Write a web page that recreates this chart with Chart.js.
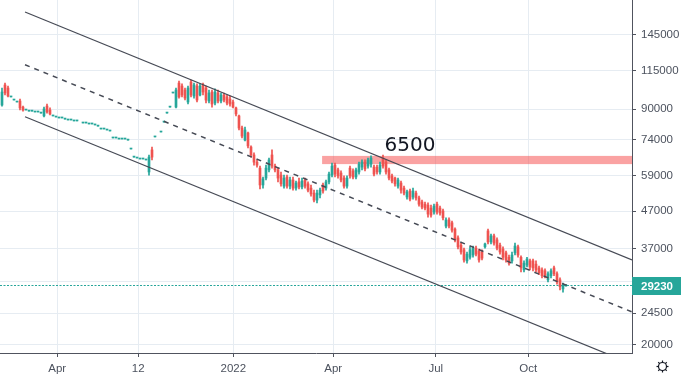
<!DOCTYPE html>
<html><head><meta charset="utf-8">
<script src="https://cdn.jsdelivr.net/npm/chart.js@4.4.0/dist/chart.umd.min.js"></script>
<style>
html,body{margin:0;padding:0;background:#fff;overflow:hidden;width:693px;height:379px;}
#wrap{position:absolute;left:0;top:-6px;width:693px;height:385px;}
</style></head><body>
<div id="wrap"><canvas id="c" width="693" height="385"></canvas></div>
<script>
const opens=[
92400,105000,103000,97300,95400,94200,94800,91200,89500,88900,
88900,88400,88400,87800,86200,91800,89500,86200,85600,85100,
85100,84500,84000,84000,83500,83500,null,82400,82400,81900,
81900,81400,80800,79300,79300,78800,78300,74900,74900,74400,
74400,74400,73900,69800,66300,65900,65500,65500,65100,60300,
69400,75400,null,77800,82900,87800,91200,99800,91200,106300,
104300,101700,94200,107000,97900,104300,98500,105000,103000,94800,
100400,93600,99800,94800,98500,97300,96000,94200,90700,86200,
79800,73900,77300,70700,67200,64200,61800,55500,58000,61100,
67200,62600,61100,59100,55100,58400,55100,57300,54400,56600,
54800,57300,55900,54400,52700,50400,52100,55500,54400,56600,
59100,63000,61100,59900,58000,55100,61800,60700,58400,60300,
62200,64200,62600,63400,62200,62200,60300,65900,64200,61100,
58800,58000,55100,56200,54400,51400,53400,51400,52700,51100,
49800,49100,48800,47900,46700,49100,47900,47000,42700,44400,
43600,41900,39600,37800,36700,34200,35000,35500,37100,36400,
36200,37400,41400,38600,40100,39100,37800,36900,36000,35000,
34200,36000,37400,35000,32300,33300,34200,34200,33500,32700,
32300,32100,30300,31100,32700,31500,30300,28600,29150];
const highs=[
103000,106300,104300,97300,95400,94200,96000,91800,89500,88900,
88900,88400,88400,87800,91200,93000,90700,86200,85600,85100,
85100,84500,84000,84000,83500,83500,null,82400,82400,81900,
81900,81400,80800,79300,79300,78800,78300,74900,74900,74400,
74400,74400,73900,69800,66300,65900,65500,65500,65100,67200,
70700,75400,null,77800,82900,87800,91200,99800,103000,107700,
105700,103000,104300,108400,106300,105700,105700,106300,104300,101700,
101700,102400,101700,99800,99800,98500,97900,95400,91200,86700,
80800,80300,77800,71200,68100,65100,62600,58400,63000,65900,
69400,63400,61800,60300,59100,59100,58400,58400,56900,58000,
58000,58000,56600,55500,53700,53700,54400,56200,57300,60300,
63800,63800,61800,60700,58800,58800,62600,61500,61800,64200,
65100,65100,65900,66800,63000,63000,64200,67200,65100,61800,
59500,58400,58000,56900,55100,53700,54100,54400,53400,51700,
50400,49800,49500,48800,49100,49800,48500,47600,45000,45000,
44100,42200,40100,38300,37100,36200,37400,37600,37600,36900,
36700,38300,41900,40600,40600,39600,38300,37400,36400,35500,
36200,38300,37800,35300,34200,35000,34600,34600,34200,33100,
32700,32500,31900,32500,33100,31900,30700,29700,29400];
const lows=[
91800,98500,97300,97300,95400,94200,89500,88900,89500,88900,
88900,88400,88400,87800,85600,87800,86700,86200,85600,85100,
85100,84500,84000,84000,83500,83500,null,82400,82400,81900,
81900,81400,80800,79300,79300,78800,78300,74900,74900,74400,
74400,74400,73900,69800,66300,65900,65500,65500,65100,59100,
65100,75400,null,77800,82900,87800,91200,99800,90700,96600,
97300,95400,93000,97300,96600,94200,97900,98500,93600,93600,
91200,92400,93600,93600,94200,92400,91800,90700,86200,78800,
74900,73500,70300,66300,63000,62200,54100,54400,57300,60300,
61800,60300,56600,55100,54400,54400,54100,53700,53700,54100,
54100,54400,53100,51700,49800,49500,51100,52700,53700,55900,
58400,58400,58000,56600,54400,54400,58000,57700,57700,59500,
61100,60700,61800,62200,58800,59500,59500,61800,59500,57300,
56200,55100,54400,52700,52100,50700,50100,50700,50400,48500,
47600,47300,45200,45200,46100,46100,45800,44400,42200,42200,
41100,38600,36900,35700,33900,33700,34600,35000,35300,33900,
34400,37100,38100,38100,37800,36700,35700,34400,33900,33300,
33700,35500,35000,31900,31900,32900,32300,32100,31900,31300,
30700,30700,29900,30700,31100,29500,28400,28000,29100];
const closes=[
100400,99800,97900,97300,95400,94200,90700,89500,89500,88900,
88900,88400,88400,87800,90100,88400,87300,86200,85600,85100,
85100,84500,84000,84000,83500,83500,null,82400,82400,81900,
81900,81400,80800,79300,79300,78800,78300,74900,74900,74400,
74400,74400,73900,69800,66300,65900,65500,65500,65100,66300,
66300,75400,null,77800,82900,87800,91200,99800,101700,97300,
98500,96600,103000,98500,105000,95400,104300,100400,95400,99800,
93000,100400,94800,98500,95400,93600,93000,91200,87300,79800,
75800,78800,71200,67200,64200,63000,55500,57700,61800,65100,
62600,61100,58000,55900,58000,55100,57300,54400,56200,54800,
56900,55100,53700,52400,50400,52700,53700,53400,56600,59500,
62600,59500,58800,57300,55100,58000,58800,58400,61100,63400,
64200,61500,65100,65900,59500,60300,63000,62600,60300,58000,
56900,55900,57300,53700,52700,53100,50700,53400,51100,49100,
48200,47900,46100,45800,48500,46700,46400,45000,44400,42700,
41600,39100,37400,36200,34400,35700,36700,37100,35700,34400,
34800,38100,38600,40100,38300,37100,36200,35000,34400,33700,
35500,37600,35500,32700,33700,34600,32900,32700,32300,31700,
31100,30900,31500,32100,31500,29900,29000,29300,29230];

const xTickVals=[18.9,45.9,77.6,110.9,145.1,175.9];
const xTickLabels=['Apr','12','2022','Apr','Jul','Oct'];
const yTickVals=[20000,24500,30000,37000,47000,59000,74000,90000,115000,145000,185000];
const lastPrice=29230;
const zoneLow=63400, zoneHigh=66800, zoneStart=107.2;
const zoneLabel='6500', zoneLabelX=136.5;
const chanX=[8.17,210.5];
const chanUpper=[167240,34390];
const chanMid=[119500,24690];
const chanLower=[85780,17720];
const X_MIN=-0.1667, X_MAX=210.5, Y_MIN=19005, Y_MAX=187600;

const UP='#26a69a', DOWN='#ef5350', AXIS='#50535e', GRID='#e6ecf2', TXT='#4c525e';

const idx=closes.map((c,i)=>i).filter(i=>closes[i]!==null);
const colorOf=i=>closes[i]>=opens[i]?UP:DOWN;
const bodyData=idx.map(i=>({x:i+0.5,y:[opens[i],closes[i]]}));
const wickData=idx.map(i=>({x:i+0.5,y:[lows[i],highs[i]]}));
const bodyColors=idx.map(colorOf);

const zonePlugin={id:'zone',beforeDatasetsDraw(ch){
  const {ctx,chartArea:a,scales:{x,y}}=ch;
  const x0=x.getPixelForValue(zoneStart), y0=y.getPixelForValue(zoneHigh), y1=y.getPixelForValue(zoneLow);
  ctx.save();ctx.fillStyle='rgba(245,70,70,0.5)';ctx.fillRect(x0,y0,a.right-x0,y1-y0);ctx.restore();
},afterDatasetsDraw(ch){
  const {ctx,scales:{x,y}}=ch;
  const y0=y.getPixelForValue(zoneHigh);
  ctx.save();ctx.fillStyle='#131722';ctx.font='20px "DejaVu Sans"';ctx.textAlign='center';ctx.textBaseline='alphabetic';
  ctx.fillText(zoneLabel,x.getPixelForValue(zoneLabelX),y0-4.5);ctx.restore();
},afterDraw(ch){
  const {ctx,chartArea:a,scales:{y}}=ch;
  const py=Math.round(y.getPixelForValue(lastPrice));
  ctx.save();
  ctx.fillStyle=UP;ctx.fillRect(a.right,py-9,49,18);
  ctx.fillStyle='#fff';ctx.font='bold 11.5px "Liberation Sans"';ctx.textAlign='left';ctx.textBaseline='middle';
  ctx.fillText(String(lastPrice),a.right+9,py+0.5);
  const gx=662.5, gy=a.bottom+13.5;
  ctx.strokeStyle='#131722';ctx.lineWidth=1.2;
  ctx.beginPath();ctx.arc(gx,gy,4,0,Math.PI*2);ctx.stroke();
  for(let k=0;k<8;k++){const t=k*Math.PI/4;ctx.beginPath();ctx.moveTo(gx+Math.cos(t)*4,gy+Math.sin(t)*4);ctx.lineTo(gx+Math.cos(t)*6,gy+Math.sin(t)*6);ctx.stroke();}
  ctx.restore();
}};

const lineDs=(ys,dash,w,order)=>({type:'line',data:chanX.map((v,i)=>({x:v,y:ys[i]})),borderColor:'#464a55',borderWidth:w,borderDash:dash,pointRadius:0,fill:false,tension:0,order:order,clip:0});

new Chart(document.getElementById('c'),{
  type:'bar',
  data:{datasets:[
    lineDs(chanUpper,[],1.2,0),
    lineDs(chanMid,[5,5],1.5,0),
    lineDs(chanLower,[],1.2,0),
    {type:'bar',data:bodyData,backgroundColor:bodyColors,barThickness:2,minBarLength:1,grouped:false,order:1},
    {type:'bar',data:wickData,backgroundColor:bodyColors,barThickness:1,grouped:false,order:2},
    {type:'line',data:[{x:X_MIN,y:lastPrice},{x:X_MAX,y:lastPrice}],borderColor:UP,borderWidth:1.2,borderDash:[2,1.5],pointRadius:0,fill:false,order:3,clip:0}
  ]},
  options:{
    responsive:false,animation:false,devicePixelRatio:1,
    layout:{padding:0,autoPadding:false},
    plugins:{legend:{display:false},tooltip:{enabled:false}},
    scales:{
      x:{type:'linear',min:X_MIN,max:X_MAX,offset:false,position:'bottom',
        afterBuildTicks:s=>{s.ticks=xTickVals.map(v=>({value:v}));},
        afterFit:s=>{s.height=26;s.paddingLeft=0;s.paddingRight=0;},
        grid:{color:GRID,offset:false,tickColor:AXIS,tickLength:4,drawTicks:true},
        border:{color:AXIS,width:1},
        ticks:{color:TXT,font:{family:'Liberation Sans',size:11.5},padding:5,maxRotation:0,autoSkip:false,callback:(v,i)=>xTickLabels[i]}},
      y:{type:'logarithmic',position:'right',min:Y_MIN,max:Y_MAX,
        afterBuildTicks:s=>{s.ticks=yTickVals.map(v=>({value:v}));},
        afterFit:s=>{s.width=61;s.paddingTop=0;s.paddingBottom=0;},
        grid:{color:GRID,tickColor:AXIS,tickLength:4,drawTicks:true},
        border:{color:AXIS,width:1},
        ticks:{color:TXT,font:{family:'Liberation Sans',size:11.5},padding:5,autoSkip:false,callback:v=>v===30000?'':String(v)}}
    }
  },
  plugins:[zonePlugin]
});
</script></body></html>
